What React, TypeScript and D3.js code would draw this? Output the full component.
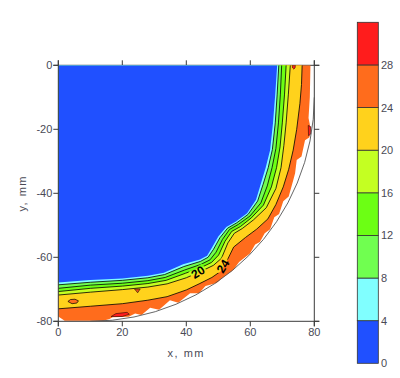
import React from 'react';
import * as d3 from 'd3';

const X_TICKS = [0, 20, 40, 60, 80];
const Y_TICKS = [0, -20, -40, -60, -80];
const LEVEL_BOUNDS = [0, 4, 8, 12, 16, 20, 24, 28, 32];
const CB_TICKS = [0, 4, 8, 12, 16, 20, 24, 28];
const LEVEL_COLORS = ['#2050ff', '#80ffff', '#70ff50', '#6cff14', '#c4ff22', '#ffd21c', '#ff6c1c', '#ff1c1c'];

// contour lines (mm), from the left edge to the top edge
const CONTOUR_4 = [[0,-67.9],[10,-67.1],[20,-66.6],[28,-65.8],[33,-64.8],[39,-62.2],[44.3,-60.7],[46.5,-59.5],[48,-57],[50,-53.5],[52.5,-50.5],[55.5,-48.8],[59,-46.2],[61.8,-42],[63.3,-37],[64.8,-32],[66.2,-26.5],[67.1,-18],[67.8,-9],[68.4,0]];
const CONTOUR_8 = [[0,-68.6],[10,-67.8],[20,-67.2],[28,-66.4],[33.2,-65.4],[39.2,-62.9],[44.4,-61.3],[46.8,-60],[48.5,-57.5],[50.5,-53.9],[52.9,-50.9],[55.8,-49.2],[59.3,-46.6],[62.3,-42.4],[64,-37.2],[65.6,-32],[66.9,-26.3],[67.8,-18],[68.4,-9],[68.9,0]];
const CONTOUR_12 = [[0,-69.7],[10,-68.7],[20,-68.1],[28,-67.3],[33.4,-66.3],[39.4,-64],[44.6,-62.2],[47.4,-60.8],[49.3,-58.4],[51.3,-54.4],[53.5,-51.3],[56.3,-49.7],[59.9,-47.1],[63.3,-43],[65.3,-37.7],[66.8,-32],[68,-26],[68.8,-18],[69.4,-9],[69.8,0]];
const CONTOUR_16 = [[0,-70.7],[10,-69.7],[20,-69],[28,-68.2],[33.7,-67.2],[39.7,-65],[44.8,-63.1],[47.9,-61.6],[50.1,-59.3],[52.1,-55],[54.2,-51.9],[56.9,-50.4],[60.3,-47.7],[64.1,-43.7],[66.6,-38],[68.2,-32],[69.3,-25.5],[70,-18],[70.7,-9],[71.2,0]];
const CONTOUR_20 = [[0,-71.8],[10,-70.9],[20,-70.1],[28,-69.3],[34,-68.3],[40,-66.4],[45,-64.2],[48.5,-62.5],[51,-60.3],[53,-55.5],[55,-52.5],[57.5,-51],[61,-48.3],[65,-44.5],[68,-38.5],[69.6,-32],[70.5,-25],[71.2,-18],[71.9,-9],[72.5,0]];
const CONTOUR_24 = [[0,-76.1],[10,-75.3],[20,-74.5],[28,-73.4],[34,-72.3],[40,-70.2],[44,-68.3],[48,-66.3],[51,-64.2],[53,-60.5],[54.8,-56.8],[58.5,-53.8],[62,-51.2],[65.5,-48],[68,-43.5],[70.3,-38],[72,-32.5],[73.4,-26.5],[74.5,-20],[75.5,-12],[76,-6],[76.2,0]];

// outer edge of the data (jagged, inside the arc)
const OUTER_EDGE = [[0,-78.5],[2,-79.8],[14,-79.8],[16,-79.3],[17,-78.7],[22,-78.6],[24,-77.6],[26,-78],[28.7,-75.8],[31.5,-76.4],[34.9,-73.4],[37.5,-74.2],[41.2,-71.2],[44,-71.2],[46,-69],[49.5,-68],[51.5,-66.3],[54.7,-64],[56.5,-61.5],[59.9,-58.8],[61.5,-56],[63,-55.2],[64.5,-52.5],[66.2,-51.2],[67.5,-47.5],[69,-46.5],[70.3,-42.5],[72,-41],[73.4,-36],[74,-33.7],[74.5,-29.6],[76,-28.5],[77.1,-23.4],[78.5,-22.5],[78.8,-19.5],[78.2,-16.5],[78.6,-10],[78.8,0]];

// small islands
const RED_SPOT_BOTTOM = [[16.5,-78.5],[18,-77.6],[21.5,-77.2],[22.2,-77.8],[20,-78.5]];
const RED_SPOT_RIGHT = [[78.1,-18.8],[78.9,-19.2],[78.9,-21.5],[78.2,-22]];
const RED_SPOT_TOP = [[73.1,0],[74.1,0],[74,-0.8],[73.6,-1.2],[73.2,-0.8]];
const ORANGE_SPOT_LEFT = [[3,-73.8],[3.8,-73.2],[5.2,-73.1],[6.3,-73.6],[5.8,-74.3],[4.3,-74.5]];
const ORANGE_SPOT_MID = [[23.8,-69.9],[25.6,-69.9],[24.8,-71.1]];

// boundary arc (mm)
const ARC_CX = 10;
const ARC_CY = -10;
const ARC_R = 70;

const CONTOUR_LABELS = [
  { text: '20', x: 43.7, y: -64.7, angle: -32 },
  { text: '24', x: 51.5, y: -62.8, angle: -58 },
];

export default function App() {
  const x = d3.scaleLinear().domain([0, 80]).range([58.3, 314.3]);
  const y = d3.scaleLinear().domain([-80, 0]).range([321.3, 65.3]);
  const cb = d3.scaleLinear().domain([0, 32]).range([363.3, 22.3]);
  const line = d3.line<number[]>().x(d => x(d[0])).y(d => y(d[1]));
  const poly = (pts: number[][]) => line(pts) + 'Z';
  const inner = (pts: number[][]) => poly([...pts, [0, 0]]);

  const arcPath = d3.path();
  arcPath.arc(x(ARC_CX), y(ARC_CY), x(ARC_R) - x(0), 0, Math.PI / 2);

  const x0 = x(0), x1 = x(80), y0 = y(0), y1 = y(-80);
  const axisColor = '#3a3a3a';
  const textColor = '#4a4a55';
  const font = '"Liberation Sans", Arial, sans-serif';

  const fills: [number[][], string][] = [
    [CONTOUR_24, LEVEL_COLORS[5]],
  ];
  const greens: [number[][], string][] = [
    [CONTOUR_20, LEVEL_COLORS[4]],
    [CONTOUR_16, LEVEL_COLORS[3]],
    [CONTOUR_12, LEVEL_COLORS[2]],
    [CONTOUR_8, LEVEL_COLORS[1]],
    [CONTOUR_4, LEVEL_COLORS[0]],
  ];
  const lines = [CONTOUR_8, CONTOUR_12, CONTOUR_16, CONTOUR_20, CONTOUR_24];

  return (
    <svg width={400} height={378} style={{ position: 'absolute', left: 0, top: 0, background: '#fff' }}>
      <defs>
        <clipPath id="plotclip">
          <rect x={x0} y={y0} width={x1 - x0} height={y1 - y0} />
        </clipPath>
        <mask id="lblmask">
          <rect x={0} y={0} width={400} height={378} fill="#fff" />
          {CONTOUR_LABELS.map((l, i) => (
            <rect key={i} x={-8} y={-5.5} width={16} height={11} fill="#000"
              transform={`translate(${x(l.x)},${y(l.y)}) rotate(${l.angle})`} />
          ))}
        </mask>
      </defs>

      {/* top frame line under data */}
      <line x1={x0 - 5} x2={x1 + 5} y1={y0} y2={y0} stroke={axisColor} strokeWidth={1} />
      {X_TICKS.map(t => (
        <line key={'tt' + t} x1={x(t)} x2={x(t)} y1={y0} y2={y0 - 5} stroke={axisColor} strokeWidth={1} />
      ))}

      <g clipPath="url(#plotclip)">
        <path d={poly([...OUTER_EDGE, [0, 0]])} fill={LEVEL_COLORS[6]} />
        <path d={poly(RED_SPOT_BOTTOM)} fill={LEVEL_COLORS[7]} stroke="#000" strokeWidth={0.5} />
        <path d={poly(RED_SPOT_RIGHT)} fill={LEVEL_COLORS[7]} stroke="#000" strokeWidth={0.5} />
        {fills.map(([pts, c], i) => <path key={'f' + i} d={inner(pts)} fill={c} />)}
        <path d={poly(ORANGE_SPOT_LEFT)} fill={LEVEL_COLORS[6]} stroke="#000" strokeWidth={0.7} />
        <path d={poly(ORANGE_SPOT_MID)} fill="#e0501a" stroke="#000" strokeWidth={0.5} />
        <path d={poly(RED_SPOT_TOP)} fill={LEVEL_COLORS[7]} stroke="#000" strokeWidth={0.5} />
        {greens.map(([pts, c], i) => <path key={'g' + i} d={inner(pts)} fill={c} />)}
        <g mask="url(#lblmask)">
          {lines.map((pts, i) => (
            <path key={'l' + i} d={line(pts) || ''} fill="none" stroke="#000" strokeWidth={0.8} />
          ))}
        </g>
        <path d={arcPath.toString()} fill="none" stroke="#555" strokeWidth={0.9} />
      </g>

      {CONTOUR_LABELS.map((l, i) => (
        <text key={'cl' + i} transform={`translate(${x(l.x)},${y(l.y)}) rotate(${l.angle})`}
          textAnchor="middle" dominantBaseline="central" fontFamily={font} fontWeight="bold"
          fontSize={12} fill="#000">{l.text}</text>
      ))}

      {/* axes */}
      <line x1={x0} x2={x0} y1={y0 - 5} y2={y1 + 5} stroke={axisColor} strokeWidth={1} />
      <line x1={x1} x2={x1} y1={y0 - 5} y2={y1 + 5} stroke={axisColor} strokeWidth={1} />
      <line x1={x0 - 5} x2={x1 + 5} y1={y1} y2={y1} stroke={axisColor} strokeWidth={1} />
      {Y_TICKS.map(t => (
        <g key={'yt' + t}>
          <line x1={x0 - 5} x2={x0} y1={y(t)} y2={y(t)} stroke={axisColor} strokeWidth={1} />
          <line x1={x1} x2={x1 + 5} y1={y(t)} y2={y(t)} stroke={axisColor} strokeWidth={1} />
          <text x={x0 - 6} y={y(t)} textAnchor="end" dominantBaseline="central"
            fontFamily={font} fontSize={11} fill={textColor}>{t}</text>
        </g>
      ))}
      {X_TICKS.map(t => (
        <g key={'xt' + t}>
          <line x1={x(t)} x2={x(t)} y1={y1} y2={y1 + 5} stroke={axisColor} strokeWidth={1} />
          <text x={x(t)} y={y1 + 15} textAnchor="middle"
            fontFamily={font} fontSize={11} fill={textColor}>{t}</text>
        </g>
      ))}
      <text x={(x0 + x1) / 2} y={357} textAnchor="middle" fontFamily={font} fontSize={11}
        letterSpacing={1.5} fill={textColor}>x, mm</text>
      <text transform={`translate(26,${(y0 + y1) / 2}) rotate(-90)`} textAnchor="middle"
        fontFamily={font} fontSize={11} letterSpacing={1.5} fill={textColor}>y, mm</text>

      {/* colour bar */}
      {LEVEL_COLORS.map((c, i) => (
        <rect key={'cb' + i} x={357.3} width={21} y={cb(LEVEL_BOUNDS[i + 1])}
          height={cb(LEVEL_BOUNDS[i]) - cb(LEVEL_BOUNDS[i + 1])} fill={c} stroke="#333" strokeWidth={0.8} />
      ))}
      {CB_TICKS.map(t => (
        <text key={'cbt' + t} x={381} y={cb(t)} dominantBaseline="central"
          fontFamily={font} fontSize={11} fill={textColor}>{t}</text>
      ))}
    </svg>
  );
}
